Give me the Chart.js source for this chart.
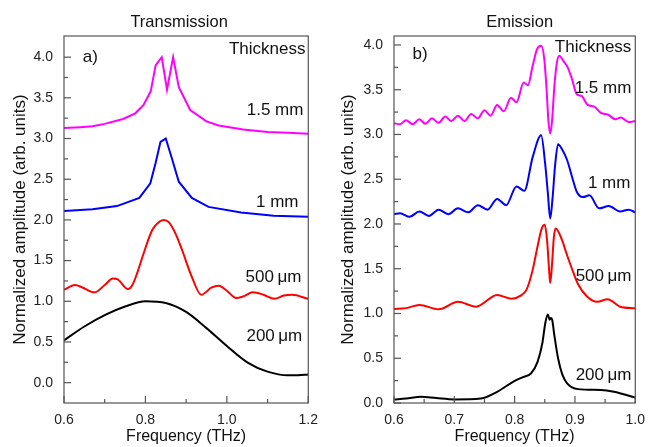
<!DOCTYPE html>
<html>
<head>
<meta charset="utf-8">
<script src="https://cdn.jsdelivr.net/npm/chart.js@4.4.1/dist/chart.umd.min.js"></script>
<style>
  body { margin: 0; background: #fff; }
  #wrap { position: relative; width: 654px; height: 447px; }
  #transChart { position: absolute; left: 0; top: 0; }
  #emisChart { position: absolute; left: 327px; top: 0; }
</style>
</head>
<body>
<div id="wrap">
  <canvas id="transChart" width="327" height="447"></canvas>
  <canvas id="emisChart" width="327" height="447"></canvas>
</div>
<script>
// --- DATA: Transmission (panel a) ---
const transXTicks = [0.6, 0.8, 1.0, 1.2];
const transXMinor = [0.7, 0.9, 1.1];
const transYTicks = [0, 0.5, 1.0, 1.5, 2.0, 2.5, 3.0, 3.5, 4.0];
const transYMinor = [-0.25, 0.25, 0.75, 1.25, 1.75, 2.25, 2.75, 3.25, 3.75];

const transFreq15 = [0.600, 0.640, 0.670, 0.700, 0.745, 0.775, 0.795, 0.813, 0.825, 0.840, 0.853, 0.868, 0.882, 0.910, 0.950, 0.980, 1.040, 1.100, 1.150, 1.200];
const transAmp15  = [3.13, 3.14, 3.15, 3.18, 3.24, 3.31, 3.41, 3.58, 3.90, 4.00, 3.60, 4.00, 3.63, 3.35, 3.21, 3.16, 3.11, 3.08, 3.07, 3.06];

const transFreq10 = [0.600, 0.670, 0.730, 0.785, 0.812, 0.825, 0.837, 0.850, 0.866, 0.882, 0.914, 0.955, 1.035, 1.115, 1.200];
const transAmp10  = [2.11, 2.13, 2.17, 2.27, 2.45, 2.70, 2.96, 3.00, 2.74, 2.47, 2.27, 2.16, 2.09, 2.05, 2.04];

const transFreq500 = [0.600, 0.627, 0.645, 0.675, 0.700, 0.720, 0.732, 0.757, 0.768, 0.780, 0.793, 0.817, 0.835, 0.845, 0.858, 0.875, 0.890, 0.914, 0.937, 0.963, 0.980, 1.000, 1.023, 1.040, 1.064, 1.090, 1.117, 1.140, 1.160, 1.200];
const transAmp500  = [1.14, 1.20, 1.17, 1.11, 1.20, 1.28, 1.27, 1.15, 1.20, 1.35, 1.55, 1.88, 1.98, 2.00, 1.97, 1.82, 1.63, 1.30, 1.08, 1.17, 1.19, 1.13, 1.04, 1.06, 1.11, 1.08, 1.03, 1.07, 1.08, 1.03];

const transFreq200 = [0.60, 0.65, 0.70, 0.75, 0.80, 0.85, 0.90, 0.95, 1.00, 1.05, 1.10, 1.15, 1.175, 1.20];
const transAmp200  = [0.52, 0.69, 0.83, 0.935, 1.00, 0.98, 0.87, 0.67, 0.45, 0.25, 0.135, 0.09, 0.09, 0.10];

// --- DATA: Emission (panel b) ---
const emisXTicks = [0.6, 0.7, 0.8, 0.9, 1.0];
const emisXMinor = [0.65, 0.75, 0.85, 0.95];
const emisYTicks = [0, 0.5, 1.0, 1.5, 2.0, 2.5, 3.0, 3.5, 4.0];
const emisYMinor = [0.25, 0.75, 1.25, 1.75, 2.25, 2.75, 3.25, 3.75];

const emisFreq15 = [0.600, 0.610, 0.620, 0.631, 0.642, 0.652, 0.663, 0.674, 0.685, 0.695, 0.706, 0.717, 0.728, 0.739, 0.750, 0.760, 0.771, 0.782, 0.794, 0.803, 0.815, 0.822, 0.830, 0.837, 0.844, 0.849, 0.853, 0.856, 0.859, 0.862, 0.866, 0.870, 0.874, 0.881, 0.888, 0.895, 0.903, 0.911, 0.921, 0.932, 0.943, 0.955, 0.967, 0.976, 0.989, 1.000];
const emisAmp15  = [3.125, 3.115, 3.16, 3.115, 3.17, 3.12, 3.18, 3.13, 3.20, 3.15, 3.21, 3.15, 3.23, 3.18, 3.27, 3.21, 3.33, 3.26, 3.41, 3.36, 3.58, 3.55, 3.77, 3.95, 3.99, 3.85, 3.50, 3.15, 3.01, 3.15, 3.55, 3.80, 3.88, 3.82, 3.75, 3.62, 3.45, 3.43, 3.33, 3.31, 3.24, 3.22, 3.17, 3.19, 3.14, 3.15];

const emisFreq10 = [0.600, 0.610, 0.626, 0.642, 0.658, 0.674, 0.690, 0.706, 0.723, 0.739, 0.755, 0.771, 0.786, 0.803, 0.816, 0.830, 0.844, 0.8505, 0.855, 0.859, 0.863, 0.867, 0.872, 0.879, 0.887, 0.895, 0.903, 0.913, 0.924, 0.940, 0.956, 0.975, 0.989, 1.000];
const emisAmp10  = [2.11, 2.12, 2.08, 2.14, 2.09, 2.16, 2.11, 2.175, 2.13, 2.21, 2.16, 2.28, 2.21, 2.42, 2.37, 2.75, 2.99, 2.68, 2.35, 2.06, 2.30, 2.65, 2.89, 2.83, 2.715, 2.53, 2.36, 2.30, 2.32, 2.175, 2.20, 2.14, 2.16, 2.13];

const emisFreq500 = [0.600, 0.620, 0.642, 0.674, 0.706, 0.736, 0.771, 0.795, 0.810, 0.820, 0.830, 0.838, 0.845, 0.850, 0.854, 0.857, 0.859, 0.862, 0.865, 0.868, 0.878, 0.886, 0.895, 0.905, 0.920, 0.937, 0.954, 0.975, 1.000];
const emisAmp500  = [1.05, 1.06, 1.095, 1.047, 1.13, 1.076, 1.207, 1.165, 1.20, 1.27, 1.49, 1.75, 1.95, 1.99, 1.80, 1.50, 1.34, 1.55, 1.85, 1.95, 1.83, 1.67, 1.50, 1.33, 1.19, 1.13, 1.16, 1.076, 1.058];

const emisFreq200 = [0.600, 0.620, 0.645, 0.670, 0.700, 0.744, 0.771, 0.798, 0.814, 0.827, 0.838, 0.846, 0.851, 0.855, 0.858, 0.860, 0.862, 0.866, 0.872, 0.879, 0.887, 0.905, 0.943, 0.9645, 1.000];
const emisAmp200  = [0.04, 0.05, 0.07, 0.055, 0.04, 0.05, 0.125, 0.24, 0.29, 0.33, 0.46, 0.67, 0.90, 0.99, 0.93, 0.95, 0.935, 0.75, 0.50, 0.32, 0.22, 0.155, 0.145, 0.125, 0.06];

const FONT = '"Liberation Sans", Arial, sans-serif';

// frame, inward ticks and text labels
const framePlugin = {
    id: 'framePlugin',
    afterDraw(chart, args, opts) {
        const { ctx, chartArea: a, scales: { x, y } } = chart;
        ctx.save();
        ctx.strokeStyle = '#555';
        ctx.lineWidth = 1.2;
        ctx.strokeRect(a.left, a.top, a.right - a.left, a.bottom - a.top);

        const line = (x1, y1, x2, y2) => {
            ctx.beginPath();
            ctx.moveTo(x1, y1);
            ctx.lineTo(x2, y2);
            ctx.stroke();
        };
        opts.xMajor.forEach(v => { const p = x.getPixelForValue(v); line(p, a.bottom, p, a.bottom - 7); });
        opts.xMinor.forEach(v => { const p = x.getPixelForValue(v); line(p, a.bottom, p, a.bottom - 4); });
        opts.yMajor.forEach(v => { const p = y.getPixelForValue(v); line(a.left, p, a.left + 7, p); });
        opts.yMinor.forEach(v => { const p = y.getPixelForValue(v); if (p < a.bottom) line(a.left, p, a.left + 4, p); });

        ctx.fillStyle = '#111';
        ctx.textBaseline = 'middle';
        ctx.font = '17px ' + FONT;
        opts.labels.forEach(l => {
            ctx.textAlign = l.align;
            ctx.fillText(l.text, x.getPixelForValue(l.x), y.getPixelForValue(l.y));
        });

        ctx.font = '16.5px ' + FONT;
        ctx.textAlign = 'center';
        ctx.fillText(opts.title, (a.left + a.right) / 2 + opts.titleShift, 22.5);
        ctx.restore();
    }
};

function series(label, xs, ys, color, smooth) {
    return {
        label: label,
        data: xs.map((f, i) => ({ x: f, y: ys[i] })),
        borderColor: color,
        borderWidth: 2,
        pointRadius: 0,
        fill: false,
        tension: 0,
        cubicInterpolationMode: smooth ? 'monotone' : 'default'
    };
}

function makeChart(id, cfg) {
    const ctx = document.getElementById(id).getContext('2d');
    return new Chart(ctx, {
        type: 'line',
        data: { datasets: cfg.datasets },
        options: {
            responsive: false,
            animation: false,
            devicePixelRatio: 1,
            layout: { padding: { top: 36, right: cfg.padRight, left: 0, bottom: 0 } },
            plugins: {
                legend: { display: false },
                tooltip: { enabled: false },
                framePlugin: cfg.frame
            },
            scales: {
                x: {
                    type: 'linear',
                    min: cfg.xMin,
                    max: cfg.xMax,
                    afterBuildTicks: s => { s.ticks = cfg.xTicks.map(v => ({ value: v })); },
                    afterFit: s => { s.height = 44; },
                    grid: { display: false, drawTicks: false },
                    border: { display: false },
                    ticks: {
                        callback: v => v.toFixed(1),
                        font: { family: FONT, size: 14 },
                        color: '#222',
                        padding: 9,
                        maxRotation: 0
                    },
                    title: {
                        display: true,
                        text: 'Frequency (THz)',
                        font: { family: FONT, size: 16 },
                        color: '#111',
                        padding: { top: 0, bottom: 1 }
                    }
                },
                y: {
                    type: 'linear',
                    min: cfg.yMin,
                    max: cfg.yMax,
                    afterBuildTicks: s => { s.ticks = cfg.yTicks.map(v => ({ value: v })); },
                    afterFit: s => { s.width = cfg.yWidth; },
                    grid: { display: false, drawTicks: false },
                    border: { display: false },
                    ticks: {
                        callback: v => v.toFixed(1),
                        font: { family: FONT, size: 14 },
                        color: '#222',
                        padding: 11
                    },
                    title: {
                        display: true,
                        text: 'Normalized amplitude (arb. units)',
                        font: { family: FONT, size: 17 },
                        color: '#111',
                        padding: { top: cfg.yTitlePad, bottom: 0 }
                    }
                }
            }
        },
        plugins: [framePlugin]
    });
}

makeChart('transChart', {
    xMin: 0.6, xMax: 1.2, yMin: -0.25, yMax: 4.26,
    xTicks: transXTicks, yTicks: transYTicks,
    padRight: 16, yWidth: 64, yTitlePad: 10,
    datasets: [
        series('1.5 mm', transFreq15, transAmp15, '#ff00ff', false),
        series('1 mm', transFreq10, transAmp10, '#0000ff', false),
        series('500 μm', transFreq500, transAmp500, '#ff0000', true),
        series('200 μm', transFreq200, transAmp200, '#000000', true)
    ],
    frame: {
        xMajor: transXTicks, xMinor: transXMinor, yMajor: transYTicks, yMinor: transYMinor,
        title: 'Transmission', titleShift: -7,
        labels: [
            { text: 'a)', x: 0.646, y: 4.0, align: 'left' },
            { text: 'Thickness', x: 1.193, y: 4.10, align: 'right' },
            { text: '1.5 mm', x: 1.188, y: 3.35, align: 'right' },
            { text: '1 mm', x: 1.176, y: 2.22, align: 'right' },
            { text: '500\u2009μm', x: 1.183, y: 1.30, align: 'right' },
            { text: '200\u2009μm', x: 1.185, y: 0.565, align: 'right' }
        ]
    }
});

makeChart('emisChart', {
    xMin: 0.6, xMax: 1.0, yMin: 0, yMax: 4.1,
    xTicks: emisXTicks, yTicks: emisYTicks,
    padRight: 12, yWidth: 67, yTitlePad: 11,
    datasets: [
        series('1.5 mm', emisFreq15, emisAmp15, '#ff00ff', true),
        series('1 mm', emisFreq10, emisAmp10, '#0000ff', true),
        series('500 μm', emisFreq500, emisAmp500, '#ff0000', true),
        series('200 μm', emisFreq200, emisAmp200, '#000000', true)
    ],
    frame: {
        xMajor: emisXTicks, xMinor: emisXMinor, yMajor: emisYTicks, yMinor: emisYMinor,
        title: 'Emission', titleShift: 5,
        labels: [
            { text: 'b)', x: 0.6306, y: 3.89, align: 'left' },
            { text: 'Thickness', x: 0.9935, y: 3.97, align: 'right' },
            { text: '1.5 mm', x: 0.9935, y: 3.52, align: 'right' },
            { text: '1 mm', x: 0.992, y: 2.45, align: 'right' },
            { text: '500\u2009μm', x: 0.9935, y: 1.41, align: 'right' },
            { text: '200\u2009μm', x: 0.9935, y: 0.31, align: 'right' }
        ]
    }
});
</script>
</body>
</html>
